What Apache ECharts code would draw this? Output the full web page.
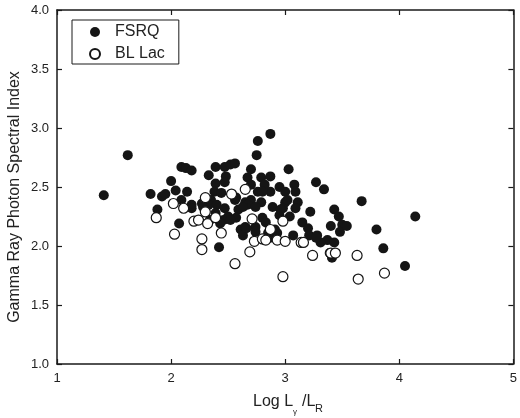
<!DOCTYPE html>
<html>
<head>
<meta charset="utf-8">
<script src="https://cdn.jsdelivr.net/npm/echarts@6/dist/echarts.min.js"></script>
<style>
  html, body { margin: 0; padding: 0; background: #fff; }
  #chart { width: 520px; height: 418px; }
</style>
</head>
<body>
<div id="chart"></div>
<script>
// FSRQ points [log Lγ/LR, photon index]
const fsrqData = [
  [1.41, 2.43], [1.62, 2.77], [1.82, 2.44], [1.88, 2.31], [1.92, 2.42], [1.95, 2.44],
  [2.00, 2.55], [2.04, 2.47], [2.07, 2.19], [2.09, 2.67], [2.13, 2.66], [2.18, 2.64],
  [2.14, 2.46], [2.09, 2.39], [2.18, 2.35], [2.33, 2.60], [2.39, 2.67], [2.47, 2.67],
  [2.52, 2.69], [2.56, 2.70], [2.39, 2.53], [2.48, 2.59], [2.47, 2.54], [2.38, 2.46],
  [2.44, 2.45], [2.35, 2.39], [2.33, 2.35], [2.40, 2.35], [2.47, 2.32], [2.39, 2.28],
  [2.34, 2.22], [2.46, 2.22], [2.42, 1.99], [2.50, 2.25], [2.59, 2.31], [2.56, 2.39],
  [2.65, 2.37], [2.61, 2.14], [2.65, 2.16], [2.63, 2.09], [2.67, 2.58], [2.70, 2.65],
  [2.76, 2.89], [2.75, 2.77], [2.87, 2.95], [2.70, 2.52], [2.79, 2.58], [2.87, 2.59],
  [2.82, 2.52], [2.95, 2.50], [3.03, 2.65], [3.08, 2.52], [2.76, 2.46], [2.87, 2.46],
  [3.00, 2.46], [3.09, 2.46], [2.70, 2.39], [2.79, 2.37], [3.00, 2.37], [3.11, 2.37],
  [2.67, 2.35], [2.89, 2.33], [2.74, 2.33], [2.98, 2.32], [3.09, 2.32], [3.22, 2.29],
  [3.27, 2.54], [3.34, 2.48], [3.43, 2.31], [3.47, 2.25], [3.50, 2.18], [3.40, 2.17],
  [3.48, 2.12], [3.54, 2.17], [3.67, 2.38], [4.14, 2.25], [3.80, 2.14], [3.86, 1.98],
  [4.05, 1.83], [2.80, 2.24], [2.95, 2.26], [3.04, 2.25], [3.15, 2.20], [2.83, 2.20],
  [2.74, 2.16], [2.91, 2.14], [2.85, 2.11], [3.07, 2.09], [3.20, 2.15], [3.21, 2.09],
  [3.28, 2.09], [3.37, 2.05], [3.43, 2.03], [3.31, 2.03], [3.39, 1.94], [3.41, 1.90],
  [2.74, 2.12], [2.87, 2.07], [2.57, 2.24], [2.52, 2.22], [2.63, 2.33], [2.27, 2.36],
  [2.28, 2.33], [2.18, 2.32], [3.02, 2.39], [2.96, 2.31], [3.27, 2.07], [2.93, 2.11],
  [2.82, 2.05], [2.66, 2.15], [2.80, 2.46], [2.57, 2.41], [2.43, 2.19]
];

// BL Lac points
const blLacData = [
  [1.87, 2.24], [2.02, 2.36], [2.03, 2.10], [2.11, 2.32], [2.20, 2.21], [2.24, 2.22],
  [2.30, 2.41], [2.30, 2.29], [2.32, 2.19], [2.27, 2.06], [2.27, 1.97], [2.39, 2.24],
  [2.44, 2.11], [2.53, 2.44], [2.65, 2.48], [2.56, 1.85], [2.69, 1.95], [2.71, 2.23],
  [2.73, 2.04], [2.80, 2.06], [2.83, 2.05], [2.87, 2.14], [2.93, 2.05], [3.00, 2.04],
  [2.98, 2.21], [2.98, 1.74], [3.14, 2.03], [3.16, 2.03], [3.24, 1.92], [3.40, 1.94],
  [3.44, 1.94], [3.63, 1.92], [3.64, 1.72], [3.87, 1.77]
];

const xTicks = [1, 2, 3, 4, 5];
const yTicks = [1.0, 1.5, 2.0, 2.5, 3.0, 3.5, 4.0];

const chart = echarts.init(document.getElementById('chart'), null, { renderer: 'canvas' });

const FONT = 'Liberation Sans, Arial, sans-serif';
const lineStyle = { color: '#1a1a1a', width: 1.5 };

// shared axis look, ticks point into the plot
function axisBase(showLabel) {
  return {
    axisLine: { show: true, onZero: false, lineStyle: lineStyle },
    axisTick: { show: true, inside: true, length: 5, lineStyle: { color: '#1a1a1a', width: 1.2 } },
    splitLine: { show: false },
    axisLabel: {
      show: showLabel,
      color: '#222',
      fontFamily: FONT,
      fontSize: 13,
      margin: 8
    }
  };
}

const option = {
  backgroundColor: '#fff',
  animation: false,
  grid: { left: 57, right: 3, top: 10, bottom: 54 },
  legend: {
    orient: 'vertical',
    left: 72,
    top: 20,
    padding: [4, 14, 2, 17],
    itemGap: 6,
    itemWidth: 30,
    itemHeight: 10,
    borderColor: '#1a1a1a',
    borderWidth: 1,
    borderRadius: 0,
    textStyle: { color: '#222', fontFamily: FONT, fontSize: 16 },
    data: ['FSRQ', 'BL Lac']
  },
  xAxis: [
    Object.assign(axisBase(true), {
      type: 'value', position: 'bottom',
      min: xTicks[0], max: xTicks[xTicks.length - 1], interval: 1
    }),
    Object.assign(axisBase(false), {
      type: 'value', position: 'top',
      min: xTicks[0], max: xTicks[xTicks.length - 1], interval: 1
    })
  ],
  yAxis: [
    Object.assign(axisBase(true), {
      type: 'value', position: 'left',
      min: yTicks[0], max: yTicks[yTicks.length - 1], interval: 0.5
    }),
    Object.assign(axisBase(false), {
      type: 'value', position: 'right',
      min: yTicks[0], max: yTicks[yTicks.length - 1], interval: 0.5
    })
  ],
  series: [
    {
      name: 'FSRQ',
      type: 'scatter',
      symbol: 'circle',
      symbolSize: 10,
      itemStyle: { color: '#151515', opacity: 1 },
      data: fsrqData
    },
    {
      name: 'BL Lac',
      type: 'scatter',
      symbol: 'circle',
      symbolSize: 10,
      itemStyle: { color: '#fff', borderColor: '#151515', borderWidth: 1.2, opacity: 1 },
      data: blLacData
    }
  ],
  graphic: [
    {
      // y axis title
      type: 'text',
      x: 15,
      y: 197,
      rotation: Math.PI / 2,
      style: {
        text: 'Gamma Ray Photon Spectral Index',
        fill: '#222',
        font: '16px ' + FONT,
        textAlign: 'center',
        textVerticalAlign: 'middle'
      }
    },
    // x axis title, Log Lγ /LR with subscripts
    {
      type: 'text', x: 253, y: 402,
      style: { text: 'Log L', fill: '#222', font: '16px ' + FONT, textAlign: 'left', textVerticalAlign: 'middle' }
    },
    {
      type: 'text', x: 293, y: 412,
      style: { text: 'γ', fill: '#222', font: '8px ' + FONT, textAlign: 'left', textVerticalAlign: 'middle' }
    },
    {
      type: 'text', x: 302, y: 402,
      style: { text: '/L', fill: '#222', font: '16px ' + FONT, textAlign: 'left', textVerticalAlign: 'middle' }
    },
    {
      type: 'text', x: 315, y: 409,
      style: { text: 'R', fill: '#222', font: '11px ' + FONT, textAlign: 'left', textVerticalAlign: 'middle' }
    }
  ]
};

// tick labels in the reference show one decimal on the y axis
option.yAxis[0].axisLabel.formatter = function (v) { return v.toFixed(1); };

chart.setOption(option);
</script>
</body>
</html>
